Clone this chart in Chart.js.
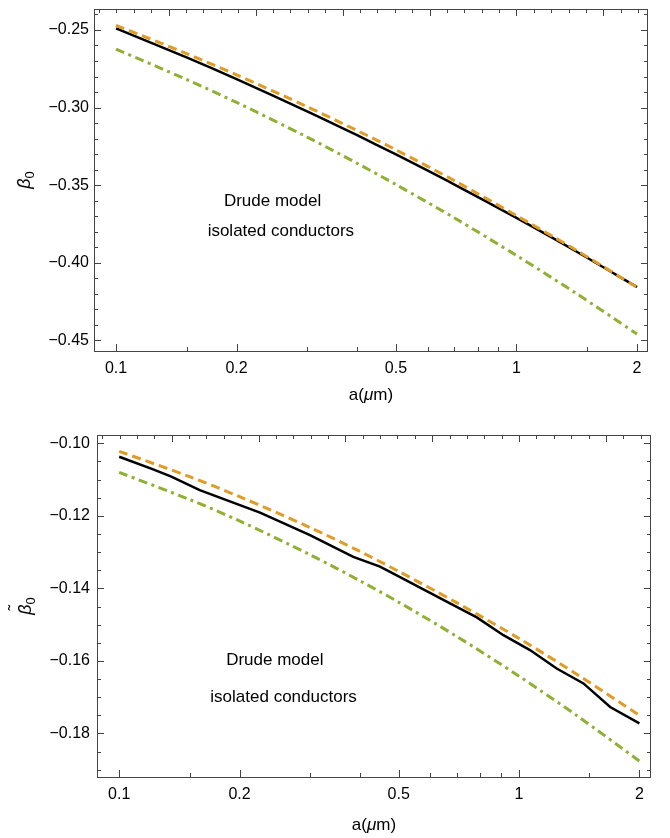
<!DOCTYPE html>
<html>
<head>
<meta charset="utf-8">
<script src="https://cdn.jsdelivr.net/npm/chart.js@4.4.0/dist/chart.umd.min.js"></script>
<style>
  html, body { margin: 0; padding: 0; background: #fff; }
  .panel { position: absolute; left: 0; width: 670px; }
  #topPanel { top: 0; height: 420px; }
  #bottomPanel { top: 420px; height: 418px; }
</style>
</head>
<body>
<div class="panel" id="topPanel"><canvas id="topChart" width="670" height="420"></canvas></div>
<div class="panel" id="bottomPanel"><canvas id="bottomChart" width="670" height="418"></canvas></div>
<script>
const FONT = '"Liberation Sans", Arial, Helvetica, sans-serif';

// a (um) grid used by the smooth curves
const aValues = [0.1, 0.15, 0.2, 0.3, 0.4, 0.5, 0.7, 1, 1.4, 2];

// upper panel: beta_0
const beta0Solid = [-0.2490, -0.2677, -0.2817, -0.3024, -0.3178, -0.3302, -0.3496, -0.3711, -0.3922, -0.4156];
const beta0Dashed = [-0.2470, -0.2652, -0.2789, -0.2994, -0.3148, -0.3272, -0.3471, -0.3696, -0.3914, -0.4158];
const beta0DotDashed = [-0.2624, -0.2819, -0.2967, -0.3190, -0.3359, -0.3496, -0.3711, -0.3953, -0.4192, -0.4459];

// lower panel: beta~_0 (the solid curve is a bit jagged, so it gets its own grid)
const aSolidLower = [0.1, 0.1216, 0.135, 0.159, 0.225, 0.3, 0.385, 0.449, 0.485, 0.672, 0.784, 0.914, 1.065, 1.242, 1.449, 1.69, 2];
const betaTildeSolid = [-0.1037, -0.1072, -0.1092, -0.1129, -0.1191, -0.1253, -0.1313, -0.1340, -0.1359, -0.1441, -0.1480, -0.1529, -0.1570, -0.1621, -0.1662, -0.1727, -0.1772];
const betaTildeDashed = [-0.1022, -0.1092, -0.1147, -0.1232, -0.1298, -0.1353, -0.1440, -0.1538, -0.1638, -0.1750];
const betaTildeDotDashed = [-0.1080, -0.1155, -0.1214, -0.1307, -0.1379, -0.1438, -0.1533, -0.1642, -0.1752, -0.1876];

// ticks
const xMajorTicks = [0.1, 0.2, 0.5, 1, 2];
const xMinorTicks = [0.15, 0.3, 0.4, 0.6, 0.7, 0.8, 0.9, 1.5];
const yTicksUpper = [-0.45, -0.40, -0.35, -0.30, -0.25];
const yTicksLower = [-0.18, -0.16, -0.14, -0.12, -0.10];

const notes = ['Drude model', 'isolated conductors'];

const ORANGE = '#E09C24';
const GREEN = '#8FB032';

const toPoints = (xs, ys) => xs.map((a, i) => ({ x: a, y: ys[i] }));

// frame with inward ticks on all four sides
const frameTicks = {
    id: 'frameTicks',
    afterDraw(chart, args, opts) {
        const { ctx, chartArea: area, scales: { x, y } } = chart;
        ctx.save();
        ctx.strokeStyle = '#444';
        ctx.lineWidth = 1;
        ctx.strokeRect(area.left + 0.5, area.top + 0.5, area.right - area.left - 1, area.bottom - area.top);

        const tick = (x1, y1, x2, y2) => {
            ctx.beginPath();
            ctx.moveTo(x1, y1);
            ctx.lineTo(x2, y2);
            ctx.stroke();
        };

        xMajorTicks.forEach(v => {
            const px = Math.round(x.getPixelForValue(v)) + 0.5;
            tick(px, area.bottom, px, area.bottom - 7);
        });
        xMinorTicks.forEach(v => {
            const px = Math.round(x.getPixelForValue(v)) + 0.5;
            tick(px, area.bottom, px, area.bottom - 4);
        });
        // top edge ticks are spaced by 0.1 in ln(a)
        for (let k = -25; k <= 8; k++) {
            const v = Math.exp(k / 10);
            if (v < x.min || v > x.max) continue;
            const px = Math.round(x.getPixelForValue(v)) + 0.5;
            tick(px, area.top, px, area.top + (k % 5 === 0 ? 7 : 4));
        }

        const n0 = Math.ceil(y.min / opts.minorStep - 1e-6);
        const n1 = Math.floor(y.max / opts.minorStep + 1e-6);
        for (let n = n0; n <= n1; n++) {
            const py = Math.round(y.getPixelForValue(n * opts.minorStep)) + 0.5;
            const len = Math.abs(n % opts.ratio) === 0 ? 7 : 4;
            tick(area.left, py, area.left + len, py);
            tick(area.right, py, area.right - len, py);
        }
        ctx.restore();
    }
};

// axis titles and the two-line note
const panelText = {
    id: 'panelText',
    afterDraw(chart, args, opts) {
        const { ctx, chartArea: area, scales: { x, y } } = chart;
        ctx.save();
        ctx.fillStyle = '#000';
        ctx.textBaseline = 'middle';
        ctx.textAlign = 'center';
        ctx.font = `17px ${FONT}`;
        opts.notes.forEach(n => {
            ctx.fillText(n.text, x.getPixelForValue(n.a), y.getPixelForValue(n.b));
        });

        // a(μm)
        ctx.textAlign = 'left';
        const parts = [['a(', `17px ${FONT}`], ['\u03bc', `italic 17px ${FONT}`], ['m)', `17px ${FONT}`]];
        let total = 0;
        parts.forEach(([t, f]) => { ctx.font = f; total += ctx.measureText(t).width; });
        let cx = (area.left + area.right) / 2 - total / 2;
        parts.forEach(([t, f]) => {
            ctx.font = f;
            ctx.fillText(t, cx, opts.xTitleY);
            cx += ctx.measureText(t).width;
        });

        // beta_0 / beta~_0, rotated
        ctx.translate(opts.yTitleX, (area.top + area.bottom) / 2);
        ctx.rotate(-Math.PI / 2);
        ctx.textBaseline = 'alphabetic';
        ctx.font = `italic 18px ${FONT}`;
        const bw = ctx.measureText('\u03b2').width;
        ctx.font = `13px ${FONT}`;
        const sw = ctx.measureText('0').width;
        const start = -(bw + sw) / 2;
        ctx.font = `italic 18px ${FONT}`;
        ctx.fillText('\u03b2', start, 6);
        ctx.font = `13px ${FONT}`;
        ctx.fillText('0', start + bw, 10);
        if (opts.tilde) {
            ctx.font = `16px ${FONT}`;
            ctx.textAlign = 'center';
            ctx.fillText('\u02dc', start + bw / 2 + 2, -5);
        }
        ctx.restore();
    }
};

function minusLabel(v) {
    return (v < 0 ? '\u2212' : '') + Math.abs(v).toFixed(2);
}

function makeChart(canvasId, cfg) {
    return new Chart(document.getElementById(canvasId), {
        type: 'line',
        data: {
            datasets: [
                {
                    data: cfg.dashed,
                    borderColor: ORANGE,
                    borderWidth: 3,
                    borderDash: [9, 5],
                    pointRadius: 0,
                    tension: 0.3
                },
                {
                    data: cfg.dotDashed,
                    borderColor: GREEN,
                    borderWidth: 3,
                    borderDash: [9, 4.5, 3, 4.5],
                    pointRadius: 0,
                    tension: 0.3
                },
                {
                    data: cfg.solid,
                    borderColor: '#000',
                    borderWidth: 2.5,
                    pointRadius: 0,
                    tension: cfg.solidTension
                }
            ]
        },
        options: {
            responsive: false,
            animation: false,
            events: [],
            layout: { padding: cfg.padding },
            plugins: {
                legend: { display: false },
                tooltip: { enabled: false },
                frameTicks: { minorStep: cfg.minorStep, ratio: cfg.ratio },
                panelText: {
                    notes: cfg.notes,
                    xTitleY: cfg.xTitleY,
                    yTitleX: cfg.yTitleX,
                    tilde: cfg.tilde
                }
            },
            scales: {
                x: {
                    type: 'logarithmic',
                    min: cfg.xMin,
                    max: cfg.xMax,
                    grid: { display: false, drawTicks: false },
                    border: { display: false },
                    afterBuildTicks: scale => {
                        scale.ticks = xMajorTicks.map(v => ({ value: v }));
                    },
                    afterFit: scale => {
                        scale.height = cfg.xHeight;
                        scale.paddingLeft = 0;
                        scale.paddingRight = 0;
                    },
                    ticks: {
                        autoSkip: false,
                        maxRotation: 0,
                        padding: 8,
                        color: '#000',
                        font: { family: FONT, size: 16 },
                        callback: v => String(v)
                    }
                },
                y: {
                    min: cfg.yMin,
                    max: cfg.yMax,
                    grid: { display: false, drawTicks: false },
                    border: { display: false },
                    afterBuildTicks: scale => {
                        scale.ticks = cfg.yTicks.map(v => ({ value: v }));
                    },
                    afterFit: scale => {
                        scale.width = cfg.yWidth;
                        scale.paddingTop = 0;
                        scale.paddingBottom = 0;
                    },
                    ticks: {
                        autoSkip: false,
                        padding: cfg.yPad,
                        color: '#000',
                        font: { family: FONT, size: 16 },
                        callback: v => minusLabel(v)
                    }
                }
            }
        },
        plugins: [frameTicks, panelText]
    });
}

makeChart('topChart', {
    solid: toPoints(aValues, beta0Solid),
    dashed: toPoints(aValues, beta0Dashed),
    dotDashed: toPoints(aValues, beta0DotDashed),
    solidTension: 0.3,
    xMin: 0.0881, xMax: 2.13,
    yMin: -0.4568, yMax: -0.2365,
    yTicks: yTicksUpper,
    minorStep: 0.01, ratio: 5,
    padding: { top: 9, right: 22, left: 0, bottom: 0 },
    yWidth: 94, xHeight: 69, yPad: 5,
    xTitleY: 395, yTitleX: 24, tilde: false,
    notes: [
        { text: notes[0], a: 0.246, b: -0.3606 },
        { text: notes[1], a: 0.258, b: -0.3800 }
    ]
});

makeChart('bottomChart', {
    solid: toPoints(aSolidLower, betaTildeSolid),
    dashed: toPoints(aValues, betaTildeDashed),
    dotDashed: toPoints(aValues, betaTildeDotDashed),
    solidTension: 0,
    xMin: 0.0880, xMax: 2.138,
    yMin: -0.1920, yMax: -0.0977,
    yTicks: yTicksLower,
    minorStep: 0.005, ratio: 4,
    padding: { top: 15, right: 19, left: 0, bottom: 0 },
    yWidth: 97, xHeight: 61, yPad: 7,
    xTitleY: 405, yTitleX: 25, tilde: true,
    notes: [
        { text: notes[0], a: 0.245, b: -0.1598 },
        { text: notes[1], a: 0.2577, b: -0.1699 }
    ]
});
</script>
</body>
</html>
